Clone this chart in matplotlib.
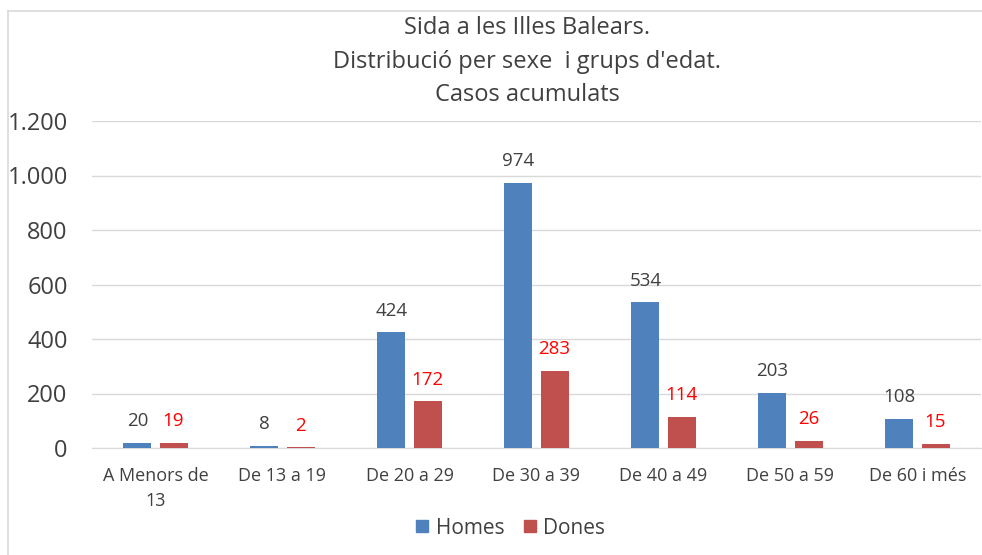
import matplotlib
matplotlib.use("Agg")
import matplotlib.pyplot as plt
import numpy as np
from matplotlib.lines import Line2D

categories = ["A Menors de\n13", "De 13 a 19", "De 20 a 29", "De 30 a 39",
              "De 40 a 49", "De 50 a 59", "De 60 i més"]
homes = [20, 8, 424, 974, 534, 203, 108]
dones = [19, 2, 172, 283, 114, 26, 15]
yticks = [0, 200, 400, 600, 800, 1000, 1200]
ytick_labels = ["0", "200", "400", "600", "800", "1.000", "1.200"]
title_lines = ["Sida a les Illes Balears.", "Distribució per sexe  i grups d'edat.", "Casos acumulats"]

plt.rcParams['font.family'] = ['Open Sans', 'DejaVu Sans']
C_H = "#4F81BD"
C_D = "#C0504D"
TXT = "#404040"
GRID = "#D9D9D9"

fig = plt.figure(figsize=(9.82, 5.55), dpi=100)
ax = fig.add_axes([92/982, 1-448/555, 889/982, 327/555])

x = np.arange(len(categories))
w = 0.22
off = 0.142
ax.bar(x - off, homes, w, color=C_H, label="Homes", zorder=3)
ax.bar(x + off, dones, w, color=C_D, label="Dones", zorder=3)

for xi, v in zip(x, homes):
    ax.annotate(str(v), (xi - off, v), xytext=(0, 9), textcoords="offset points",
                ha="center", va="bottom", fontsize=13.5, color=TXT)
for xi, v in zip(x, dones):
    ax.annotate(str(v), (xi + off, v), xytext=(0, 9), textcoords="offset points",
                ha="center", va="bottom", fontsize=13.5, color="#FF0000")

ax.set_xlim(-0.5, len(categories) - 0.5)
ax.set_ylim(0, 1200)
ax.set_yticks(yticks)
ax.set_yticklabels(ytick_labels, fontsize=17, color=TXT)
ax.set_xticks(x)
ax.set_xticklabels(categories, fontsize=13, color=TXT, linespacing=1.45)
ax.tick_params(axis="y", length=0, pad=17.5)
ax.tick_params(axis="x", length=0, pad=14)
ax.grid(axis="y", color=GRID, linewidth=1, zorder=0)
for s in ["top", "right", "left"]:
    ax.spines[s].set_visible(False)
ax.spines["bottom"].set_color(GRID)
ax.set_facecolor("none")

# title lines
for i, t in enumerate(title_lines):
    fig.text(527/982, 1 - (28 + 33.5*i)/555, t, ha="center", va="center",
             fontsize=17, color=TXT)

# legend
handles = [Line2D([], [], marker="s", linestyle="none", markersize=9, color=C_H, label="Homes"),
           Line2D([], [], marker="s", linestyle="none", markersize=9, color=C_D, label="Dones")]
fig.legend(handles=handles, loc="center", bbox_to_anchor=(506/982, 1-528/555), ncol=2,
           frameon=False, fontsize=15, handletextpad=-0.1, columnspacing=0.45,
           handlelength=1.5, labelcolor=TXT)

# chart border (partial, as in reference)
fig.add_artist(Line2D([8/982, 1], [1-11/555, 1-11/555], color="#D9D9D9", lw=1.2, transform=fig.transFigure))
fig.add_artist(Line2D([8/982, 8/982], [0, 1-11/555], color="#D9D9D9", lw=1.2, transform=fig.transFigure))

fig.savefig("out.png", dpi=100)
